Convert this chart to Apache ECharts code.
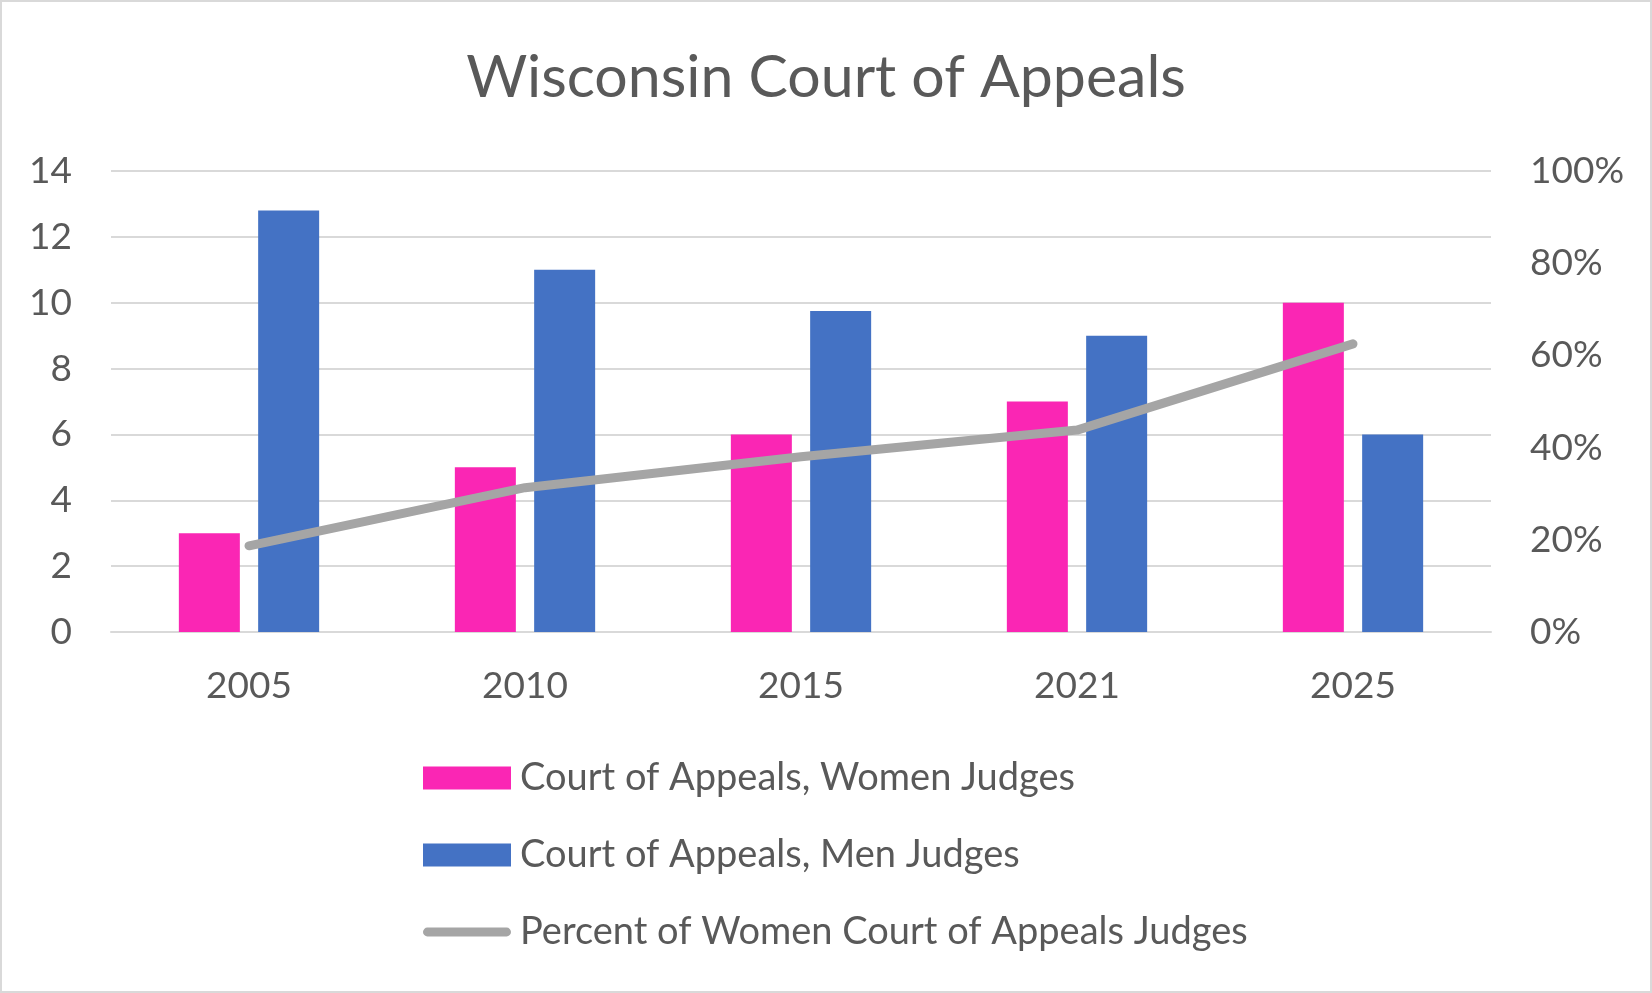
<!DOCTYPE html>
<html>
<head>
<meta charset="utf-8">
<title>Wisconsin Court of Appeals</title>
<script src="https://cdn.jsdelivr.net/npm/echarts@6/dist/echarts.min.js"></script>
<style>
  html, body { margin: 0; padding: 0; background: #fff; }
  #chart { width: 1652px; height: 993px; }
</style>
</head>
<body>
<div id="chart"></div>
<script>
var years = ['2005', '2010', '2015', '2021', '2025'];
var womenJudges = [3, 5, 6, 7, 10];
var menJudges = [12.8, 11, 9.75, 9, 6];
var percentWomen = [0.187, 0.313, 0.38, 0.438, 0.625];

var countTicks = { min: 0, max: 14, interval: 2 };
var percentTicks = { min: 0, max: 1, interval: 0.2 };

var seriesNames = [
    'Court of Appeals, Women Judges',
    'Court of Appeals, Men Judges',
    'Percent of Women Court of Appeals Judges'
];

window.onload = function () {

    var chartDom = document.getElementById('chart');
    var myChart = echarts.init(chartDom);
    var font = 'Lato, "Open Sans", sans-serif';
    var textColor = '#595959';
    var gridColor = '#d9d9d9';
    // thick rounded line for the legend of the percent series
    var lineIcon = 'path://M5,0 H95 A5,5 0 0 1 95,10 H5 A5,5 0 0 1 5,0 Z';
    var option;

    option = {
        backgroundColor: '#ffffff',
        animation: false,
        title: {
            text: 'Wisconsin Court of Appeals',
            left: 'center',
            top: 43,
            textStyle: {
                fontFamily: font,
                fontWeight: 'normal',
                fontSize: 59,
                color: textColor
            }
        },
        graphic: [{
            type: 'rect',
            shape: { x: 1, y: 1, width: 1650, height: 991 },
            style: { fill: 'none', stroke: gridColor, lineWidth: 2 },
            silent: true
        }],
        legend: {
            orient: 'vertical',
            left: 418,
            top: 753,
            itemWidth: 88,
            itemHeight: 23,
            itemGap: 37,
            data: [
                { name: seriesNames[0], icon: 'rect' },
                { name: seriesNames[1], icon: 'rect' },
                { name: seriesNames[2], icon: lineIcon }
            ],
            textStyle: {
                fontFamily: font,
                fontSize: 38,
                lineHeight: 40,
                color: textColor,
                padding: [0, 0, 0, 4]
            }
        },
        grid: {
            left: 111,
            right: 161,
            top: 171,
            bottom: 361,
            containLabel: false
        },
        xAxis: [{
            type: 'category',
            data: years,
            axisLine: { show: true, lineStyle: { color: gridColor, width: 2 } },
            axisTick: { show: false },
            axisLabel: {
                margin: 36,
                fontFamily: font,
                fontSize: 37,
                color: textColor
            }
        }],
        yAxis: [
            {
                type: 'value',
                min: countTicks.min,
                max: countTicks.max,
                interval: countTicks.interval,
                axisLine: { show: false },
                axisTick: { show: false },
                splitLine: { lineStyle: { color: gridColor, width: 2 } },
                axisLabel: {
                    margin: 39,
                    fontFamily: font,
                    fontSize: 37,
                    color: textColor
                }
            },
            {
                type: 'value',
                min: percentTicks.min,
                max: percentTicks.max,
                interval: percentTicks.interval,
                axisLine: { show: false },
                axisTick: { show: false },
                splitLine: { show: false },
                axisLabel: {
                    margin: 39,
                    fontFamily: font,
                    fontSize: 37,
                    color: textColor,
                    formatter: function (v) {
                        return Math.round(v * 100) + '%';
                    }
                }
            }
        ],
        series: [
            {
                name: seriesNames[0],
                type: 'bar',
                color: '#fa26b4',
                barWidth: 61,
                barGap: '30%',
                data: womenJudges
            },
            {
                name: seriesNames[1],
                type: 'bar',
                color: '#4472c4',
                barWidth: 61,
                barGap: '30%',
                data: menJudges
            },
            {
                name: seriesNames[2],
                type: 'line',
                yAxisIndex: 1,
                color: '#a5a5a5',
                symbol: 'none',
                lineStyle: { color: '#a5a5a5', width: 9, cap: 'round', join: 'round' },
                data: percentWomen
            }
        ]
    };

    option && myChart.setOption(option);

    window.addEventListener('resize', function() {
        myChart.resize();
    });

}
</script>
</body>
</html>
